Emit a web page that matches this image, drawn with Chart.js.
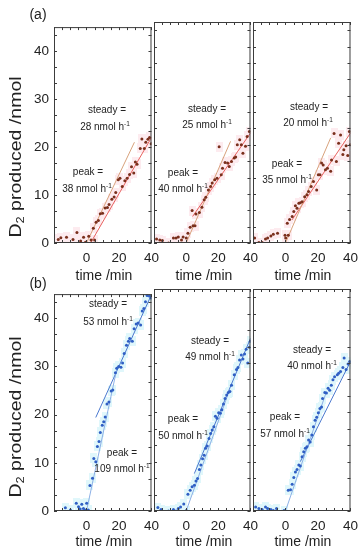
<!DOCTYPE html>
<html><head><meta charset="utf-8">
<script src="https://cdn.jsdelivr.net/npm/chart.js@4.4.0/dist/chart.umd.min.js"></script>
<style>
html,body{margin:0;padding:0;background:#fff;width:362px;height:550px;overflow:hidden;font-family:"Liberation Sans",Arial,sans-serif;position:relative;}
.t{position:absolute;font-size:10px;color:#222;white-space:nowrap;transform:translate(-50%,-50%);line-height:1;}
.t sup{font-size:6.5px;vertical-align:4px;}
.lab{position:absolute;font-size:14px;color:#222;white-space:nowrap;transform:translate(-50%,-50%);line-height:1;}
.ytitle{position:absolute;font-size:16px;color:#222;white-space:nowrap;transform:translate(-50%,-50%) rotate(-90deg) scale(1.22,1);line-height:1;}
.ytitle sub{font-size:10.5px;vertical-align:-3px;}
</style></head><body>
<script>
// ---- data ----
const xTickLabels = [0, 20, 40];
const yTickLabels = [0, 10, 20, 30, 40];

// (a) row
const tA1 = [-17.4,-15.8,-12.3,-8.3,-5.9,-3.6,-1.8,-0.6,1.4,2.8,4.2,5.0,5.9,7.3,8.5,9.9,11.5,12.9,13.9,15.6,17.0,18.0,19.6,20.6,22.0,23.6,25.0,26.5,27.7,29.1,30.1,31.1,33.1,34.1,35.6,36.5,37.8,38.8,39.8];
const vA1 = [0.75,1.1,1.2,0.75,2.2,0.4,1.2,0.15,1.4,0.6,3.1,0.6,4.3,4.7,6.1,6.2,7.3,7.4,8.0,9.1,9.6,10.5,13.2,13.5,11.8,13.0,13.5,14.3,15.9,14.6,16.9,16.4,19.7,21.7,19.7,21.0,21.6,22.0,20.7];
const peakA1 = [[0, 0], [29.5, 21]];
const steadyA1 = [[2.5, 0], [40, 22]];

const tA2 = [-18.4,-16.4,-14.8,-11.0,-7.9,-6.3,-4.9,-2.9,-1.9,0.1,1.1,2.5,3.7,4.3,5.5,6.1,8.2,9.8,11.2,12.2,13.8,15.2,16.2,17.8,19.2,20.5,21.8,22.6,24.2,25.8,26.8,28.2,29.9,30.8,31.8,33.3,34.3,35.3,36.9,37.9,39.3];
const vA2 = [0.8,0.6,0.5,0.0,1.0,1.0,1.2,0.6,1.2,1.0,2.0,3.2,6.6,3.5,3.5,5.9,6.2,7.3,8.8,9.3,10.8,11.5,12.2,12.9,13.2,19.6,13.9,15.2,16.4,16.3,15.6,16.6,17.3,17.5,20.0,21.0,20.0,18.3,19.7,21.7,22.7];
const peakA2 = [[0, 0], [27.6, 20.7]];
const steadyA2 = [[4, 5.4], [40, 22.4]];

const tA3 = [-19.0,-16.4,-14.4,-12.3,-11.0,-9.0,-7.5,-4.9,-0.3,0.1,1.1,1.7,2.5,4.1,5.1,6.1,7.1,8.2,9.1,10.2,11.8,13.2,14.2,15.8,17.2,19.2,20.2,21.2,22.2,23.2,24.6,25.8,27.8,28.3,29.9,31.3,32.7,33.9,35.3,35.9,37.3,38.3,39.3,39.9];
const vA3 = [1.0,0.1,0.1,0.8,1.0,1.4,1.8,2.0,1.6,1.0,4.0,1.6,4.8,5.4,6.4,7.6,7.1,8.1,8.2,8.4,9.4,9.8,10.5,11.5,12.5,10.8,13.9,13.9,16.3,15.9,14.9,15.2,14.6,16.9,22.3,16.6,20.3,22.0,18.0,19.0,19.8,17.8,22.7,20.0];
const peakA3 = [[0, 0], [27.8, 21.4]];
const steadyA3 = [[4, 4.7], [40, 22.4]];

// (b) row
const tB1 = [-13.0,-9.9,-6.3,-4.9,-3.9,-2.9,-1.9,-0.9,0.1,1.1,2.1,3.7,4.5,5.7,6.7,7.7,8.5,9.7,10.6,11.5,12.6,13.8,15.2,16.2,17.8,18.6,19.8,21.2,22.2,23.2,24.6,25.8,26.6,28.2,29.3,30.6,31.8,33.3,34.3,35.3,36.3,37.3,38.7,39.7];
const vB1 = [0.7,0.2,1.6,0.9,0.4,1.4,0.5,0.2,1.6,0.2,5.3,6.8,10.9,10.2,13.4,14.4,16.3,17.8,18.5,19.5,22.2,22.6,24.9,25.1,28.7,29.6,30.0,29.8,30.7,32.7,34.4,35.2,35.8,35.2,37.8,38.8,39.0,38.6,41.5,42.0,43.4,44.7,44.6,44.2];
const peakB1 = [[0, 0], [19, 30]];
const steadyB1 = [[5.7, 19.4], [40, 44.9]];

const tB2 = [-17.6,-15.6,-11.0,-7.9,-6.3,-4.9,-3.5,-1.5,0.1,1.1,2.5,3.7,5.1,6.1,7.1,8.2,9.1,10.2,11.2,12.1,13.1,14.2,15.2,16.2,17.2,18.2,19.2,20.2,21.2,22.2,23.2,24.2,25.2,26.2,27.2,28.2,29.9,31.3,32.2,33.2,34.3,35.3,36.3,37.3,38.3,39.3,39.9];
const vB2 = [0.7,0.3,0.0,0.3,0.0,0.5,0.8,1.4,0.1,3.4,4.2,4.9,5.2,6.1,6.6,8.4,9.3,10.6,11.3,12.7,13.2,14.7,15.7,16.4,17.1,19.2,18.8,19.9,19.8,20.5,21.7,22.8,23.5,24.0,24.2,25.5,27.6,28.7,29.1,30.6,31.6,30.8,31.8,32.8,30.0,33.2,34.4];
const peakB2 = [[0, 0], [26.6, 24.2]];
const steadyB2 = [[5.1, 7.6], [40, 35]];

const tB3 = [-18.4,-16.4,-14.4,-12.3,-11.0,-9.0,-7.5,-5.5,-0.9,1.7,3.1,4.1,5.1,6.1,7.1,8.2,9.1,10.2,11.2,12.2,13.2,14.2,15.2,16.2,17.2,18.2,19.2,20.2,21.2,22.2,22.8,24.2,25.2,26.2,27.2,28.2,29.2,30.2,31.9,32.7,33.9,35.3,36.1,37.3,38.5,39.5];
const vB3 = [0.8,0.5,0.3,0.8,0.5,0.3,0.1,0.5,0.1,4.2,4.3,5.4,6.8,7.9,8.4,9.3,9.1,11.0,12.0,12.7,13.0,14.4,14.0,15.4,17.1,18.4,19.0,19.9,20.8,21.1,22.8,24.0,23.9,24.9,24.5,25.5,26.6,27.2,27.6,27.9,28.3,29.1,31.0,28.7,29.8,30.3];
const peakB3 = [[0, 0], [25.2, 24.2]];
const steadyB3 = [[9.1, 10], [40, 30.3]];

const rateLabels = [
  ['28', '38'], ['25', '40'], ['20', '35'],
  ['53', '109'], ['49', '50'], ['40', '57']
];
</script>
<script>
const FONT = '"Liberation Sans", Arial, sans-serif';
const colLeft = [54, 154, 253], colRight = [154, 253, 353];
const rowTop = [22, 289], rowBottom = [243, 511];
const xMin = -20, xMax = 40, yMin = 0, yMax = 45;
const xMinorStep = 5, yMinorStep = 10 / 3;

const styles = [
  { dot: '#7a2f1c', peak: '#d8a27c', steady: '#e8615e', box: '#fdebef' },
  { dot: '#2f5fc4', peak: '#8cb0e6', steady: '#4a78cf', box: '#e0f7fb' }
];

function boxImage(color) {
  const c = document.createElement('canvas');
  c.width = 7; c.height = 10;
  const g = c.getContext('2d');
  g.fillStyle = color; g.fillRect(0, 0, 7, 10);
  return c;
}

const framePlugin = {
  id: 'frame',
  afterDatasetsDraw(chart) {
    const { ctx, chartArea: a, scales: { x, y } } = chart;
    ctx.save();
    ctx.strokeStyle = '#3c3c3c';
    ctx.lineWidth = 1;
    ctx.strokeRect(a.left + 0.5, a.top + 0.5, a.right - a.left - 1, a.bottom - a.top - 1);
    ctx.beginPath();
    for (let v = xMin; v <= xMax + 1e-6; v += xMinorStep) {
      const px = Math.round(x.getPixelForValue(v)) + 0.5;
      ctx.moveTo(px, a.bottom); ctx.lineTo(px, a.bottom - 3);
      ctx.moveTo(px, a.top); ctx.lineTo(px, a.top + 3);
    }
    for (let v = yMin; v <= yMax + 1e-6; v += yMinorStep) {
      const py = Math.round(y.getPixelForValue(v)) + 0.5;
      ctx.moveTo(a.left, py); ctx.lineTo(a.left + 3, py);
      ctx.moveTo(a.right, py); ctx.lineTo(a.right - 3, py);
    }
    ctx.stroke();
    ctx.restore();
  }
};

const panels = [
  { t: tA1, v: vA1, peak: peakA1, steady: steadyA1, row: 0, col: 0 },
  { t: tA2, v: vA2, peak: peakA2, steady: steadyA2, row: 0, col: 1 },
  { t: tA3, v: vA3, peak: peakA3, steady: steadyA3, row: 0, col: 2 },
  { t: tB1, v: vB1, peak: peakB1, steady: steadyB1, row: 1, col: 0 },
  { t: tB2, v: vB2, peak: peakB2, steady: steadyB2, row: 1, col: 1 },
  { t: tB3, v: vB3, peak: peakB3, steady: steadyB3, row: 1, col: 2 }
];

const padL = 40, padT = 8, padR = 12, padB = 30;

panels.forEach(p => {
  const L = colLeft[p.col], R = colRight[p.col], T = rowTop[p.row], B = rowBottom[p.row];
  const W = R - L, H = B - T;
  const st = styles[p.row];
  const cv = document.createElement('canvas');
  cv.width = W + padL + padR; cv.height = H + padT + padB;
  cv.style.cssText = `position:absolute;left:${L - padL}px;top:${T - padT}px;width:${cv.width}px;height:${cv.height}px;`;
  document.body.appendChild(cv);
  const pts = p.t.map((x, i) => ({ x, y: p.v[i] }));
  const toXY = arr => arr.map(q => ({ x: q[0], y: q[1] }));
  new Chart(cv, {
    type: 'scatter',
    data: {
      datasets: [
        { data: pts, pointRadius: 1.5, pointBackgroundColor: st.dot, pointBorderWidth: 0, order: 0 },
        { data: toXY(p.peak), showLine: true, borderColor: st.peak, borderWidth: 1, pointRadius: 0, order: 1 },
        { data: toXY(p.steady), showLine: true, borderColor: st.steady, borderWidth: 1, pointRadius: 0, order: 1 },
        { data: pts, pointStyle: boxImage(st.box), pointRadius: 3, order: 3, clip: 0 }
      ]
    },
    options: {
      responsive: false, animation: false, devicePixelRatio: 1,
      layout: { padding: { left: 0, top: padT, right: padR, bottom: 0 } },
      plugins: { legend: { display: false }, tooltip: { enabled: false } },
      scales: {
        x: {
          type: 'linear', min: xMin, max: xMax,
          afterFit: s => { s.height = padB; },
          grid: { display: false, drawTicks: false }, border: { display: false },
          ticks: {
            stepSize: 20, includeBounds: false, padding: 7, autoSkip: false, maxRotation: 0,
            color: '#222', font: { size: 13.5, family: FONT },
            callback: v => xTickLabels.includes(v) ? String(v) : ''
          }
        },
        y: {
          type: 'linear', min: yMin, max: yMax,
          afterFit: s => { s.width = padL; },
          grid: { display: false, drawTicks: false }, border: { display: false },
          ticks: {
            display: p.col === 0, stepSize: 10, includeBounds: false, padding: 5,
            color: '#222', font: { size: 13.5, family: FONT },
            callback: v => yTickLabels.includes(v) ? String(v) : ''
          }
        }
      }
    },
    plugins: [framePlugin]
  });
});

// ---- text ----
function addDiv(cls, html, x, y) {
  const d = document.createElement('div');
  d.className = cls; d.innerHTML = html;
  d.style.left = x + 'px'; d.style.top = y + 'px';
  document.body.appendChild(d);
}
addDiv('lab', '(a)', 38, 14);
addDiv('lab', '(b)', 38, 283);
[[104, 275], [204, 275], [303, 275]].forEach(([x, y]) => addDiv('lab', 'time /min', x, y));
[[104, 541], [204, 541], [303, 541]].forEach(([x, y]) => addDiv('lab', 'time /min', x, y));
addDiv('ytitle', 'D<sub>2</sub> produced /nmol', 17, 157);
addDiv('ytitle', 'D<sub>2</sub> produced /nmol', 17, 417);

const annPos = [
  { s: [107, 110, 105, 126], p: [88, 172, 87, 188] },
  { s: [207, 109, 207, 124], p: [183, 173, 183, 188] },
  { s: [309, 107, 308, 122], p: [287, 164, 287, 179] },
  { s: [108, 304, 108, 321], p: [122, 453, 122, 468] },
  { s: [210, 341, 210, 356], p: [183, 419, 183, 435] },
  { s: [312, 350, 312, 365], p: [285, 417, 285, 433] }
];
annPos.forEach((a, i) => {
  const [sr, pr] = rateLabels[i];
  addDiv('t', 'steady =', a.s[0], a.s[1]);
  addDiv('t', sr + ' nmol h<sup>-1</sup>', a.s[2], a.s[3]);
  addDiv('t', 'peak =', a.p[0], a.p[1]);
  addDiv('t', pr + ' nmol h<sup>-1</sup>', a.p[2], a.p[3]);
});
</script>
</body></html>
